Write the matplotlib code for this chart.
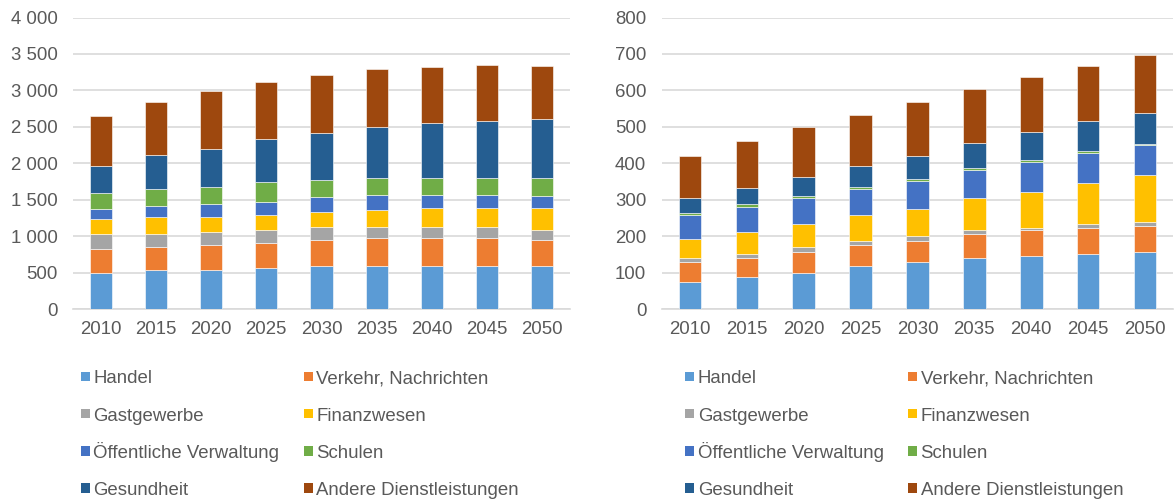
import numpy as np
import matplotlib
matplotlib.use("Agg")
import matplotlib.pyplot as plt
from matplotlib.patches import Patch, Rectangle
from matplotlib.legend_handler import HandlerPatch
from matplotlib.ticker import FuncFormatter, MultipleLocator

plt.rcParams['font.family'] = ['Liberation Sans', 'DejaVu Sans']

years = ['2010', '2015', '2020', '2025', '2030', '2035', '2040', '2045', '2050']
sectors = ['Handel', 'Verkehr, Nachrichten', 'Gastgewerbe', 'Finanzwesen',
           'Öffentliche Verwaltung', 'Schulen', 'Gesundheit', 'Andere Dienstleistungen']
colors = ['#5B9BD5', '#ED7D31', '#A5A5A5', '#FFC000',
          '#4472C4', '#70AD47', '#255E91', '#9E480E']

# linkes Diagramm
left_handel = [500, 530, 530, 565, 595, 595, 595, 595, 595]
left_verkehr = [330, 325, 350, 345, 345, 375, 375, 375, 345]
left_gast = [200, 175, 180, 180, 180, 150, 150, 150, 150]
left_finanz = [205, 237, 205, 206, 206, 238, 266, 266, 293]
left_oeff = [142, 143, 180, 178, 206, 201, 173, 173, 173]
left_schulen = [215, 238, 230, 266, 239, 239, 239, 239, 239]
left_gesundheit = [376, 468, 527, 587, 641, 696, 755, 788, 814]
left_andere = [675, 728, 796, 782, 793, 796, 764, 758, 728]

# rechtes Diagramm
right_handel = [75, 87, 99, 117, 128, 140, 146, 152, 157]
right_verkehr = [53, 52, 58, 58, 59, 65, 70, 70, 71]
right_gast = [11, 12, 12, 12, 12, 11, 5, 11, 11]
right_finanz = [54, 59, 65, 70, 76, 89, 101, 112, 129]
right_oeff = [64, 70, 70, 71, 76, 76, 81, 82, 82]
right_schulen = [7, 7, 6, 6, 7, 6, 6, 6, 2]
right_gesundheit = [40, 46, 53, 59, 63, 69, 76, 82, 86]
right_andere = [117, 129, 137, 140, 148, 147, 153, 153, 160]

left_data = [left_handel, left_verkehr, left_gast, left_finanz,
             left_oeff, left_schulen, left_gesundheit, left_andere]
right_data = [right_handel, right_verkehr, right_gast, right_finanz,
              right_oeff, right_schulen, right_gesundheit, right_andere]

W, H = 1176, 499
fig = plt.figure(figsize=(W / 100, H / 100), dpi=100)
grid_c = '#D9D9D9'
text_c = '#595959'
fs = 13.4


def draw(ax, data, ymax, step):
    x = np.arange(len(years))
    bottom = np.zeros(len(years))
    for vals, c in zip(data, colors):
        ax.bar(x, vals, width=0.4, bottom=bottom, color=c,
               edgecolor='white', linewidth=0.4, zorder=3)
        bottom += np.array(vals)
    ax.set_xlim(-0.5, len(years) - 0.5)
    ax.set_ylim(0, ymax)
    ax.yaxis.set_major_locator(MultipleLocator(step))
    ax.yaxis.set_major_formatter(FuncFormatter(lambda v, p: f'{int(v):,}'.replace(',', ' ')))
    ax.set_xticks(x)
    ax.set_xticklabels(years)
    ax.grid(axis='y', color=grid_c, linewidth=1.2, zorder=0)
    for s in ['top', 'right', 'left']:
        ax.spines[s].set_visible(False)
    ax.spines['bottom'].set_color(grid_c)
    ax.spines['bottom'].set_linewidth(1.2)
    ax.tick_params(axis='y', length=0, pad=11, labelsize=fs, labelcolor=text_c)
    ax.tick_params(axis='x', length=0, pad=8.3, labelsize=fs, labelcolor=text_c)


def small_square(legend, orig_handle, xdescent, ydescent, width, height, fontsize):
    s = 0.5 * fontsize
    return Rectangle((-xdescent, 0.11 * fontsize), s, s)


def add_legend(ax, x_px, y_px):
    handles = [Patch(facecolor=c, edgecolor='none', label=s) for s, c in zip(sectors, colors)]
    order = [0, 2, 4, 6, 1, 3, 5, 7]
    leg = ax.legend([handles[i] for i in order], [sectors[i] for i in order],
                    ncol=2, loc='upper left',
                    bbox_to_anchor=(x_px / W, 1 - y_px / H),
                    bbox_transform=fig.transFigure, frameon=False,
                    fontsize=fs, handlelength=0.5, handleheight=1.5,
                    handletextpad=0.18, labelspacing=0.77, columnspacing=1.3,
                    borderpad=0, borderaxespad=0,
                    handler_map={Patch: HandlerPatch(patch_func=small_square)})
    for t in leg.get_texts():
        t.set_color(text_c)


ax1 = fig.add_axes([73 / W, 1 - 309 / H, (570 - 73) / W, (309 - 17.5) / H])
draw(ax1, left_data, 4000, 500)
add_legend(ax1, 80.7, 366)

ax2 = fig.add_axes([661.6 / W, 1 - 309 / H, (1173.4 - 661.6) / W, (309 - 17.5) / H])
draw(ax2, right_data, 800, 100)
add_legend(ax2, 685, 366)

fig.savefig('out.png', dpi=100)
